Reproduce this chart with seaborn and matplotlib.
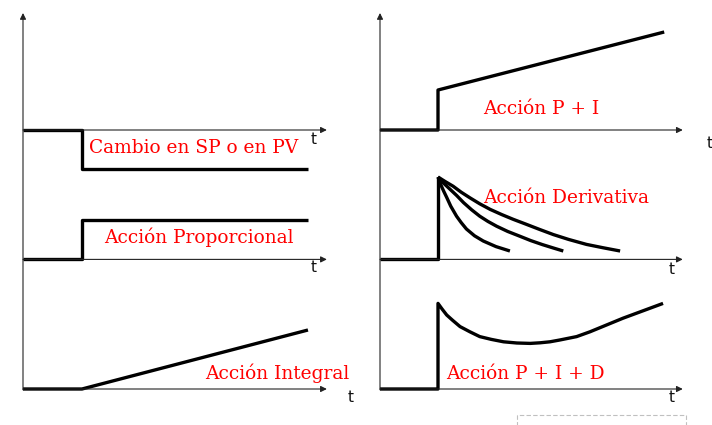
import matplotlib
matplotlib.use("Agg")
import matplotlib.pyplot as plt
import seaborn as sns
import pandas as pd

sns.set_theme(style="white")
plt.rcParams['font.family'] = ['DejaVu Sans']

# ---------------- data (t in time units, y in signal units) ----------------
BASES = [6.475, 3.24, 0.0]          # baselines of the three stacked plots

# left column
sp_t = [0.0, 1.0, 1.0, 4.83]
sp_y = [0.0, 0.0, -0.98, -0.98]
p_t = [0.0, 1.0, 1.0, 4.83]
p_y = [0.0, 0.0, 0.98, 0.98]
i_t = [0.0, 1.0, 4.83]
i_y = [0.0, 0.0, 1.475]

# right column
pi_t = [0.0, 1.0, 1.0, 4.9]
pi_y = [0.0, 0.0, 1.0, 2.45]
d_step_t = [0.0, 1.0, 1.0]
d_step_y = [0.0, 0.0, 2.06]
d1_t = [1.0, 1.05, 1.10, 1.15, 1.22, 1.32, 1.40, 1.49, 1.63, 1.78, 2.00, 2.24]
d1_y = [2.06, 1.86, 1.70, 1.55, 1.33, 1.08, 0.92, 0.76, 0.59, 0.46, 0.32, 0.21]
d2_t = [1.0, 1.10, 1.21, 1.32, 1.44, 1.58, 1.72, 1.86, 2.01, 2.20, 2.41, 2.60,
        2.80, 3.00, 3.16]
d2_y = [2.06, 1.90, 1.75, 1.60, 1.42, 1.24, 1.08, 0.95, 0.83, 0.70, 0.58, 0.47,
        0.37, 0.28, 0.21]
d3_t = [1.0, 1.12, 1.26, 1.40, 1.55, 1.72, 1.90, 2.10, 2.30, 2.50, 2.75, 2.99,
        3.25, 3.56, 3.85, 4.14]
d3_y = [2.06, 1.95, 1.83, 1.68, 1.54, 1.39, 1.25, 1.12, 1.00, 0.89, 0.75, 0.62,
        0.50, 0.375, 0.29, 0.21]
pid_t = [0.0, 1.0, 1.0, 1.07, 1.15, 1.25, 1.38, 1.55, 1.72, 1.92, 2.13, 2.36,
         2.59, 2.76, 2.93, 3.10, 3.39, 3.62, 4.19, 4.88]
pid_y = [0.0, 0.0, 2.14, 2.00, 1.85, 1.72, 1.56, 1.43, 1.31, 1.24, 1.18, 1.15,
         1.14, 1.155, 1.18, 1.225, 1.31, 1.43, 1.77, 2.14]

labels_left = ["Cambio en SP o en PV", "Acción Proporcional", "Acción Integral"]
labels_right = ["Acción P + I", "Acción Derivativa", "Acción P + I + D"]
label_left_xy = [(1.12, 5.90), (1.37, 3.65), (3.08, 0.25)]
label_right_xy = [(1.776, 6.875), (1.776, 4.65), (1.138, 0.25)]
t_left_xy = [(4.88, 6.25), (4.88, 3.03), (5.51, -0.20)]
t_right_xy = [(5.64, 6.15), (4.98, 2.975), (4.98, -0.225)]

# ---------------- figure ----------------
W, H = 712, 425
fig = plt.figure(figsize=(W / 100, H / 100), dpi=100)
fig.patch.set_facecolor("white")
axL = fig.add_axes([0, 0, 356 / W, 1])
axR = fig.add_axes([356 / W, 0, 356 / W, 1])
axL.set_xlim(-23 / 59, (356 - 23) / 59)
axR.set_xlim(-24 / 58, (356 - 24) / 58)
for ax in (axL, axR):
    ax.set_ylim(-36 / 40, 389 / 40)
    ax.axis("off")

AX_COLOR = "#222222"
LW = 2.4


def draw_axes(ax, tip_x):
    arrow = dict(arrowstyle="-|>", lw=0.8, color=AX_COLOR, mutation_scale=9,
                 shrinkA=0, shrinkB=0)
    ax.annotate("", xy=(0, 9.4), xytext=(0, -0.02), arrowprops=arrow)
    for b in BASES:
        ax.annotate("", xy=(tip_x, b), xytext=(0, b), arrowprops=arrow)


def curve(ax, t, y, base):
    df = pd.DataFrame({"t": t, "y": [v + base for v in y]})
    sns.lineplot(data=df, x="t", y="y", ax=ax, sort=False, estimator=None,
                 color="black", lw=LW, solid_joinstyle="round",
                 solid_capstyle="butt", clip_on=False)


draw_axes(axL, 5.15)
draw_axes(axR, 5.22)

curve(axL, sp_t, sp_y, BASES[0])
curve(axL, p_t, p_y, BASES[1])
curve(axL, i_t, i_y, BASES[2])

curve(axR, pi_t, pi_y, BASES[0])
curve(axR, d_step_t, d_step_y, BASES[1])
for tt, yy in ((d1_t, d1_y), (d2_t, d2_y), (d3_t, d3_y)):
    curve(axR, tt, yy, BASES[1])
curve(axR, pid_t, pid_y, BASES[2])

red_font = dict(color="#ff0000", fontsize=13.4, family=["DejaVu Serif"],
                ha="left", va="baseline")
for ax, labs, pos in ((axL, labels_left, label_left_xy),
                      (axR, labels_right, label_right_xy)):
    for s, (x, y) in zip(labs, pos):
        ax.text(x, y, s, **red_font)

for ax, pos in ((axL, t_left_xy), (axR, t_right_xy)):
    for (x, y) in pos:
        ax.text(x, y, "t", color="#111111", fontsize=11, ha="left",
                va="center", family=["DejaVu Sans"])

# faint dashed frame at the bottom right
box_t = [2.36, 2.36, 5.28, 5.28]
box_y = [-1.0, -0.65, -0.65, -1.0]
axR.plot(box_t, box_y, color="#c0c0c0", lw=0.8, ls=(0, (4, 2)), clip_on=False)

fig.savefig("out.png", dpi=100, facecolor="white")
